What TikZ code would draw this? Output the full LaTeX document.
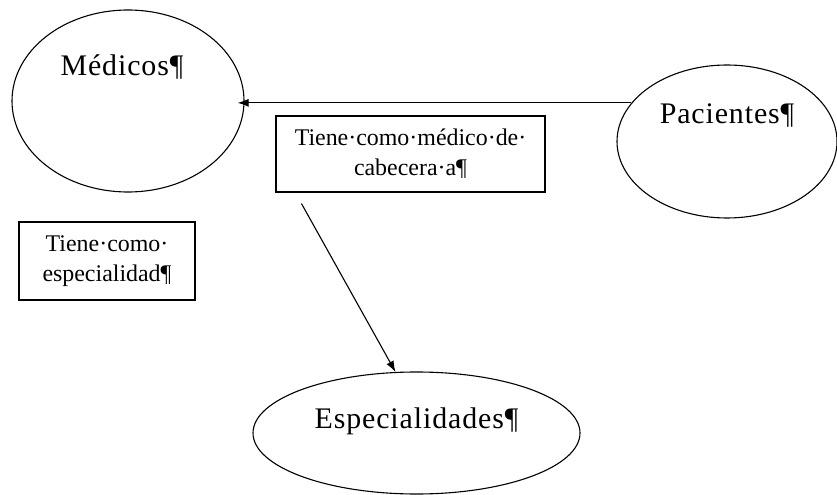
\documentclass[tikz,border=0pt]{standalone}
\usepackage{fontspec}
\setmainfont{Liberation Serif}
\newfontfamily\entfont[LetterSpace=3]{Liberation Serif}
\usetikzlibrary{arrows.meta,shapes.geometric,positioning}

\begin{document}
\begin{tikzpicture}[x=1bp, y=-1bp, line width=1.1bp,
                >={Latex[length=11bp,width=8bp]}]
        \tikzset{
                entity/.style   = {draw, ellipse, inner sep=0pt},
                elabel/.style   = {font=\entfont\fontsize{30}{36}\selectfont, inner sep=0pt},
                relation/.style = {draw, rectangle, inner sep=0pt, align=center,
                                font=\fontsize{24}{30}\selectfont}
        }
        \useasboundingbox (0,0) rectangle (837,495);

        % the three entities
        \node[entity, minimum width=232bp, minimum height=182bp,
                label={[elabel, xshift=-6bp, yshift=34bp]center:Médicos¶}] (med) at (128,101) {};
        \node[entity, minimum width=220bp, minimum height=153bp,
                label={[elabel, yshift=26bp]center:Pacientes¶}] (pac) at (727,141.5) {};
        \node[entity, minimum width=327bp, minimum height=122bp,
                label={[elabel, yshift=12bp]center:Especialidades¶}] (esp) at (416.5,433) {};

        % the relations, as boxes
        \node[relation, minimum width=269bp, minimum height=76bp] (r1) at (410.5,154)
                {Tiene·como·médico·de·\\cabecera·a¶};
        \node[relation, minimum width=176bp, minimum height=78bp] (r2) at (107,261)
                {Tiene·como·\\especialidad¶};

        % connectors
        \draw[->, shorten >=-7bp] (pac.158) -- (pac.158 -| med.east);
        \draw[->] ([xshift=26bp,yshift=-11bp]r1.south west) -- (esp.109);

\end{tikzpicture}
\end{document}
